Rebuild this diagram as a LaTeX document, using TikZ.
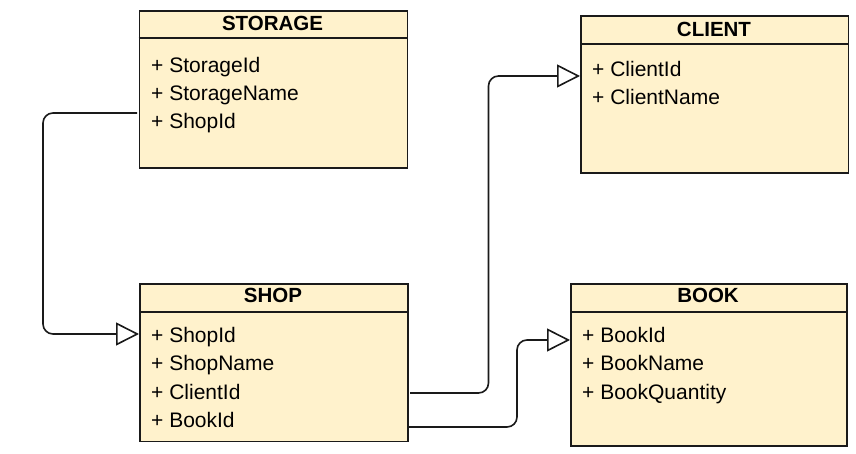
\documentclass[tikz,border=0pt]{standalone}
\usepackage{fontspec}
\setmainfont{Liberation Sans}
\usetikzlibrary{arrows.meta}
\definecolor{boxfill}{HTML}{FFF2CC}
\definecolor{ink}{HTML}{1A1A1A}
\tikzset{
  umlbox/.style={draw=ink, line width=1.6bp, fill=boxfill, rectangle, anchor=north west, inner sep=0pt},
  umltitle/.style={anchor=base, inner sep=0pt, font=\fontsize{20.5bp}{24bp}\selectfont\bfseries},
  umlrow/.style={anchor=base west, inner sep=0pt, font=\fontsize{21bp}{24bp}\selectfont},
  conn/.style={draw=ink, line width=1.6bp, rounded corners=10bp,
    -{Triangle[open, length=23bp, width=23bp, fill=white]}},
  plain/.style={draw=ink, line width=1.6bp, rounded corners=10bp}
}
\begin{document}
\begin{tikzpicture}[x=1bp, y=-1bp]
\useasboundingbox (0,0) rectangle (856,454);
% STORAGE
\node[umlbox, minimum width=268bp, minimum height=157bp] (storage) at (138.5,10) {};
\draw[draw=ink, line width=1.6bp] ([yshift=-28bp]storage.north west) -- ([yshift=-28bp]storage.north east);
\node[umltitle] (storaget) at (272.5,31) {STORAGE};
\node[umlrow] (st1) at (151,73) {+ StorageId};
\node[umlrow] (st2) at (151,101) {+ StorageName};
\node[umlrow] (st3) at (151,129) {+ ShopId};
% CLIENT
\node[umlbox, minimum width=267.5bp, minimum height=157bp] (client) at (580,15) {};
\draw[draw=ink, line width=1.6bp] ([yshift=-29bp]client.north west) -- ([yshift=-29bp]client.north east);
\node[umltitle] (clientt) at (714,37) {CLIENT};
\node[umlrow] (cl1) at (592,77) {+ ClientId};
\node[umlrow] (cl2) at (592,105) {+ ClientName};
% SHOP
\node[umlbox, minimum width=268bp, minimum height=157bp] (shop) at (139,283.5) {};
\draw[draw=ink, line width=1.6bp] ([yshift=-28.5bp]shop.north west) -- ([yshift=-28.5bp]shop.north east);
\node[umltitle] (shopt) at (273,303) {SHOP};
\node[umlrow] (sh1) at (151,343) {+ ShopId};
\node[umlrow] (sh2) at (151,371) {+ ShopName};
\node[umlrow] (sh3) at (151,399) {+ ClientId};
\node[umlrow] (sh4) at (151,427) {+ BookId};
% BOOK
\node[umlbox, minimum width=276bp, minimum height=161.5bp] (book) at (570,283.5) {};
\draw[draw=ink, line width=1.6bp] ([yshift=-28.5bp]book.north west) -- ([yshift=-28.5bp]book.north east);
\node[umltitle] (bookt) at (708,303) {BOOK};
\node[umlrow] (bk1) at (582,343) {+ BookId};
\node[umlrow] (bk2) at (582,371) {+ BookName};
\node[umlrow] (bk3) at (582,399) {+ BookQuantity};
% connector coordinates
\coordinate (c1s) at (137,113);
\coordinate (c1e) at (shop.west |- 0,334);
\coordinate (c2s) at (410,393);
\coordinate (c2e) at (client.west |- 0,76);
\coordinate (c3s) at (407,427);
\coordinate (c3e) at (book.west |- 0,340);
% connectors
\draw[conn] (c1s) -- (43,113) -- (43,334) -- (c1e);
\draw[conn] (c2s) -- (488.5,393) -- (488.5,76) -- (c2e);
\draw[conn] (c3s) -- (517,427) -- (517,340) -- (c3e);
\end{tikzpicture}
\end{document}
